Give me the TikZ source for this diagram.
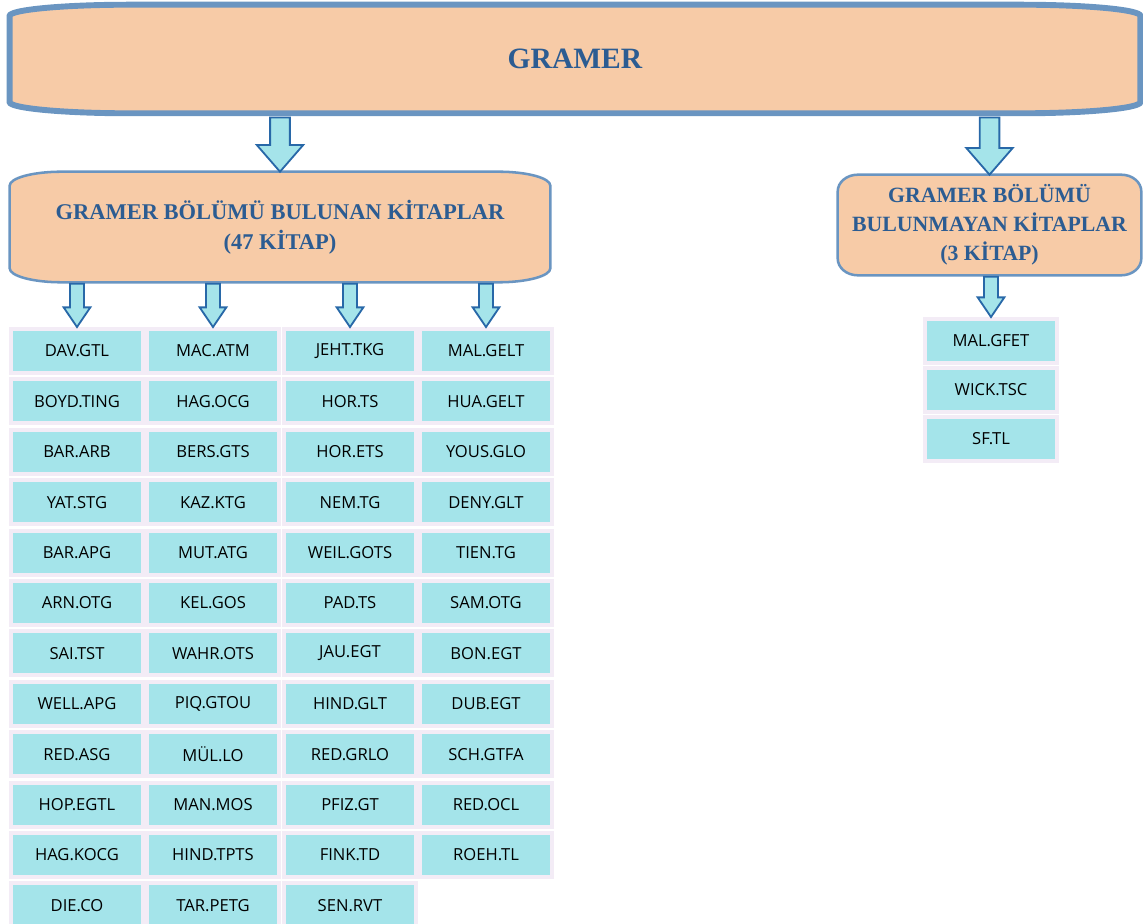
\documentclass[tikz,border=0pt]{standalone}
\usepackage{fontspec}
\setmainfont{Liberation Serif}
\newfontfamily\cellfont{Open Sans}
\usepackage{tikz}
\usetikzlibrary{calc, backgrounds}
\definecolor{boxPeach}{RGB}{247,203,167}
\definecolor{boxLine}{RGB}{106,149,193}
\definecolor{headBlue}{RGB}{44,92,146}
\definecolor{arrowFill}{RGB}{165,228,234}
\definecolor{arrowLine}{RGB}{40,104,168}
\definecolor{cellCyan}{RGB}{164,228,234}
\definecolor{cellFrame}{RGB}{243,236,246}

\tikzset{
  headbox/.style={inner sep=0pt, align=center, text=headBlue,
    font=\bfseries\fontsize{15.5}{20.5}\selectfont},
  bookcell/.style={fill=cellCyan, draw=cellFrame, line width=2.8pt,
    minimum width=3.3cm, minimum height=1.1cm, inner sep=0pt,
    font=\cellfont\fontsize{11.8}{14}\selectfont},
  blockarr/.style={fill=arrowFill, draw=arrowLine, line width=1.3pt, line join=miter},
}

% soft cornered outline round a node: #1 node, #2 x radius, #3 y radius, #4 line width
\newcommand\softbox[4]{%
  \draw[fill=boxPeach, draw=boxLine, line width=#4]
    ([yshift=-#3]#1.north west) arc[start angle=180, end angle=90, x radius=#2, y radius=#3]
    -- ([xshift=-#2]#1.north east) arc[start angle=90, end angle=0, x radius=#2, y radius=#3]
    -- ([yshift=#3]#1.south east) arc[start angle=0, end angle=-90, x radius=#2, y radius=#3]
    -- ([xshift=#2]#1.south west) arc[start angle=-90, end angle=-180, x radius=#2, y radius=#3]
    -- cycle;}

% hollow block arrow: #1 from, #2 to, #3 half shaft, #4 half head, #5 head length
\newcommand\blockarrow[5]{%
  \draw[blockarr] let \p1=(#1), \p2=(#2) in
    (\x2-#3,\y1) -- (\x2+#3,\y1) -- (\x2+#3,\y2+#5) -- (\x2+#4,\y2+#5)
    -- (\x2,\y2) -- (\x2-#4,\y2+#5) -- (\x2-#3,\y2+#5) -- cycle;}

\begin{document}
\begin{tikzpicture}[x=0.025cm, y=-0.025cm]
  \useasboundingbox (0,0) rectangle (1143,924);

  \node[headbox, font=\bfseries\fontsize{21}{25}\selectfont,
        minimum width=28.25cm, minimum height=2.7cm] (gramer) at (575,59) {GRAMER};
  \node[headbox, font=\bfseries\fontsize{16}{21}\selectfont,
        minimum width=13.5cm, minimum height=2.75cm] (found) at (280,227)
    {GRAMER BÖLÜMÜ BULUNAN KİTAPLAR\\(47 KİTAP)};
  \node[headbox, minimum width=7.575cm, minimum height=2.5cm] (missing) at (989.5,225)
    {GRAMER BÖLÜMÜ\\BULUNMAYAN KİTAPLAR\\(3 KİTAP)};

  \begin{scope}[on background layer]
    \softbox{gramer}{3cm}{0.28cm}{4.2pt}
    \softbox{found}{1.3cm}{0.35cm}{1.8pt}
    \softbox{missing}{0.5cm}{0.42cm}{1.8pt}
  \end{scope}

  \blockarrow{[yshift=-3pt]gramer.south}{found.north}{7pt}{16.5pt}{19pt}
  \blockarrow{[yshift=-3pt]gramer.south}{missing.north}{7pt}{16.5pt}{19pt}

  % books with a grammar part, one column at a time
  \foreach \c/\xc/\books in {
      1/77/{DAV.GTL,BOYD.TING,BAR.ARB,YAT.STG,BAR.APG,ARN.OTG,SAI.TST,WELL.APG,RED.ASG,HOP.EGTL,HAG.KOCG,DIE.CO},
      2/213/{MAC.ATM,HAG.OCG,BERS.GTS,KAZ.KTG,MUT.ATG,KEL.GOS,WAHR.OTS,PIQ.GTOU,MÜL.LO,MAN.MOS,HIND.TPTS,TAR.PETG},
      3/350/{JEHT.TKG,HOR.TS,HOR.ETS,NEM.TG,WEIL.GOTS,PAD.TS,JAU.EGT,HIND.GLT,RED.GRLO,PFIZ.GT,FINK.TD,SEN.RVT},
      4/486/{MAL.GELT,HUA.GELT,YOUS.GLO,DENY.GLT,TIEN.TG,SAM.OTG,BON.EGT,DUB.EGT,SCH.GTFA,RED.OCL,ROEH.TL}} {
    \foreach \b [count=\r] in \books
      \node[bookcell] (c\c-\r) at (\xc,{351+(\r-1)*50.4}) {\b};
    \blockarrow{[yshift=-1pt]found.south}{c\c-1.north}{5pt}{9.5pt}{14pt}
  }

  % books without one
  \foreach \b [count=\r] in {MAL.GFET,WICK.TSC,SF.TL}
    \node[bookcell] (m\r) at (991,{341+(\r-1)*49}) {\b};
  \blockarrow{[yshift=-1pt]missing.south}{m1.north}{5pt}{9.5pt}{14pt}
\end{tikzpicture}
\end{document}
